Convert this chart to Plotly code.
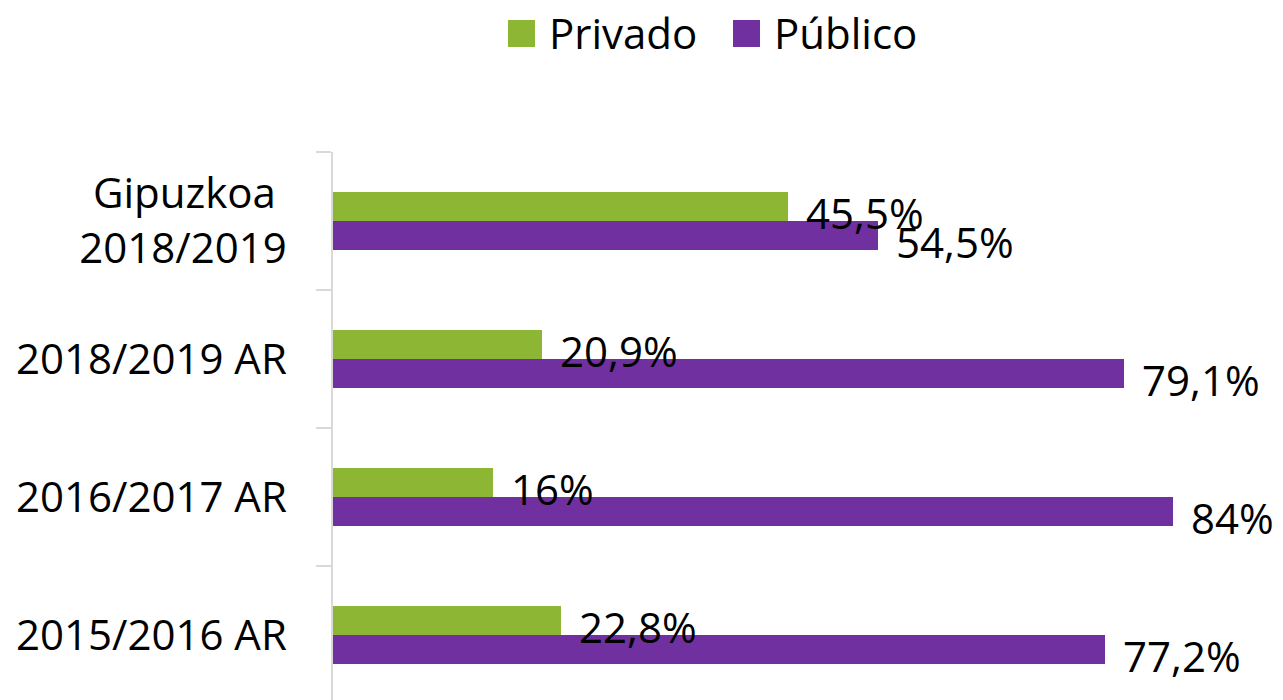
import plotly.graph_objects as go

# ---- data ----
categories = ["2015/2016 AR", "2016/2017 AR", "2018/2019 AR", "Gipuzkoa\u00a0<br>2018/2019"]
privado = [22.8, 16.0, 20.9, 45.5]
publico = [77.2, 84.0, 79.1, 54.5]
series_names = ["Privado", "Público"]
series_colors = ["#8DB635", "#7030A0"]

OFF = 8  # page body margin
W, H = 1283 - OFF, 700 - OFF
ML, MR, MT, MB = 333 - OFF, 0, 152 - OFF, 0
PW, PH = W - ML - MR, H - MT - MB
FONT = "Open Sans"
FS = 42

def fmt(v):
    return f"{v:g}".replace(".", ",") + "%"

def px_x(px):  # screen px -> paper
    return (px - OFF - ML) / PW

def px_y(py):
    return (H - MB - (py - OFF)) / PH

fig = go.Figure()
# first trace drawn at bottom of group -> Público first
fig.add_trace(go.Bar(y=categories, x=publico, orientation="h", name=series_names[1],
                     marker=dict(color=series_colors[1], line=dict(width=0)), showlegend=False))
fig.add_trace(go.Bar(y=categories, x=privado, orientation="h", name=series_names[0],
                     marker=dict(color=series_colors[0], line=dict(width=0)), showlegend=False))

annotations = []
half = (1 - 0.58) / 4  # half a bar width in category units
for cat, pv, pu in zip(categories, privado, publico):
    annotations.append(dict(x=pv, y=cat, xref="x", yref="y", text=fmt(pv), showarrow=False,
                            xanchor="left", yanchor="middle", xshift=16, yshift=half * 138 - 6,
                            font=dict(family=FONT, size=FS, color="#000")))
    annotations.append(dict(x=pu, y=cat, xref="x", yref="y", text=fmt(pu), showarrow=False,
                            xanchor="left", yanchor="middle", xshift=16, yshift=-half * 138 - 6,
                            font=dict(family=FONT, size=FS, color="#000")))

# custom legend
shapes = []
leg_pos = [(508, 547), (733, 772)]
for name, col, (sx, tx) in zip(series_names, series_colors, leg_pos):
    shapes.append(dict(type="rect", xref="paper", yref="paper",
                       x0=px_x(sx), x1=px_x(sx + 27), y0=px_y(47), y1=px_y(20),
                       fillcolor=col, line=dict(width=0)))
    annotations.append(dict(x=px_x(tx), y=px_y(33), xref="paper", yref="paper", text=name,
                            showarrow=False, xanchor="left", yanchor="middle",
                            font=dict(family=FONT, size=FS, color="#000")))

fig.update_layout(
    width=W, height=H,
    margin=dict(l=ML, r=MR, t=MT, b=MB, pad=0),
    paper_bgcolor="white", plot_bgcolor="white",
    barmode="group", bargap=0.58, bargroupgap=0,
    showlegend=False,
    annotations=annotations, shapes=shapes,
    font=dict(family=FONT, size=FS, color="#000"),
)
fig.update_xaxes(range=[0, PW / 10.0], visible=False, showgrid=False, zeroline=False)
fig.update_yaxes(type="category", categoryorder="array", categoryarray=categories,
                 range=[3.5 - PH / 138.0, 3.5],
                 showline=True, linecolor="#D9D9D9", linewidth=1.5,
                 ticks="outside", ticklen=15, tickcolor="#D9D9D9", tickwidth=1.5,
                 tickson="boundaries", showgrid=False, zeroline=False,
                 ticklabelstandoff=36,
                 tickfont=dict(family=FONT, size=FS, color="#000"))

fig.write_html("out.html")
